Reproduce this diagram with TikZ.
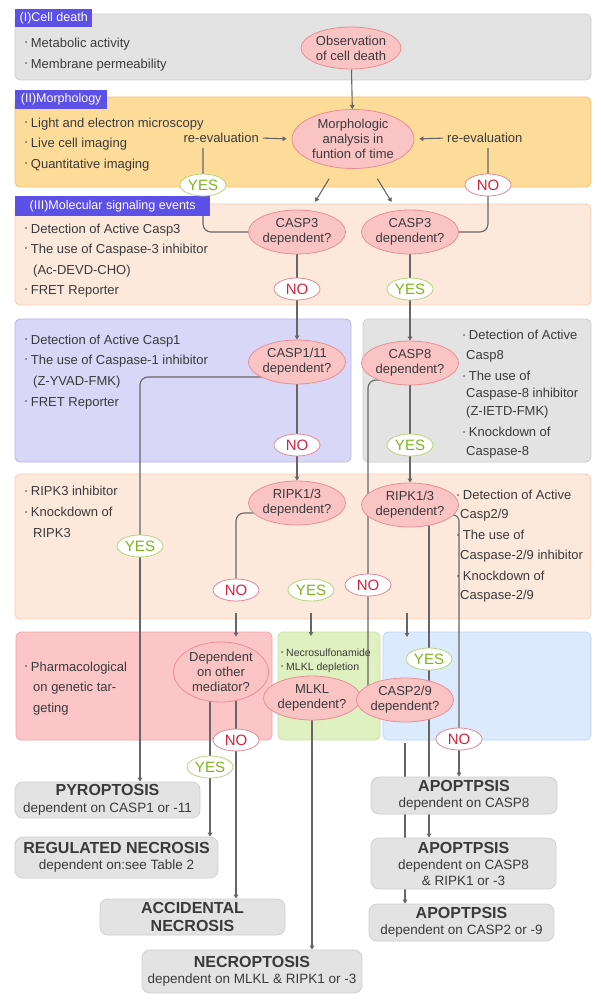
\documentclass[tikz,border=0pt]{standalone}
\usepackage{fontspec}
\setmainfont{Liberation Sans}
\usetikzlibrary{shapes.geometric,arrows.meta,calc}
\pgfdeclarelayer{bg}\pgfdeclarelayer{mid}\pgfsetlayers{bg,mid,main}
\newcommand\fz[2]{\fontsize{#1}{#2}\selectfont}
\newcommand\bl{\raisebox{0.35ex}{\fz{6}{6}\textbullet}\ }
\newcommand\ttl[1]{{\fontsize{16}{17}\selectfont\bfseries #1}}
\definecolor{txt}{HTML}{3A3A3A}
\definecolor{ellF}{HTML}{FBC4C4}\definecolor{ellB}{HTML}{E88F95}
\definecolor{yesB}{HTML}{B5D67A}\definecolor{yesT}{HTML}{7CB518}
\definecolor{noB}{HTML}{E48A96}\definecolor{noT}{HTML}{D9233F}
\definecolor{lab}{HTML}{5D50E6}\definecolor{lnC}{HTML}{666666}
\definecolor{resF}{HTML}{E3E3E3}\definecolor{resB}{HTML}{CFCFCF}
\tikzset{
 ell/.style={ellipse,draw=ellB,fill=ellF,line width=0.8pt,inner sep=0pt,align=center,text=txt,font=\fz{13}{15}},
 yes/.style={ellipse,draw=yesB,fill=white,text=yesT,minimum width=46,minimum height=22,inner sep=0pt,line width=0.8pt,font=\fz{15}{15}},
 no/.style={ellipse,draw=noB,fill=white,text=noT,minimum width=46,minimum height=22,inner sep=0pt,line width=0.8pt,font=\fz{15}{15}},
 res/.style={rounded corners=8pt,draw=resB,fill=resF,line width=0.8pt,align=center,text=txt,inner sep=0pt,font=\fz{13.5}{16.5}},
 ln/.style={draw=lnC,line width=1.1pt},
 arr/.style={ln,-{Triangle[length=4pt,width=4.5pt]}},
 pan/.style={rounded corners=5pt,line width=0.8pt},
 lab/.style={fill=lab,text=white,inner sep=0pt,font=\fz{12.5}{12.5},anchor=north west},
 bt/.style={anchor=west,text=txt,font=\fz{13}{13},inner sep=0pt}
}
\begin{document}
\begin{tikzpicture}[x=1pt,y=-1pt]
\useasboundingbox (0,0) rectangle (600,1008);
\begin{pgfonlayer}{bg}
\fill[white] (0,0) rectangle (600,1008);
\path[pan,fill=resF,draw=resB] (15,14) rectangle (591,80);
\path[pan,fill={rgb,255:red,253;green,220;blue,154},draw={rgb,255:red,245;green,192;blue,107}] (15,97) rectangle (591,187);
\path[pan,fill={rgb,255:red,253;green,233;blue,220},draw={rgb,255:red,249;green,205;blue,179}] (15,204) rectangle (591,305);
\path[pan,fill={rgb,255:red,217;green,215;blue,247},draw={rgb,255:red,185;green,180;blue,239}] (15,319) rectangle (351,462);
\path[pan,fill=resF,draw=resB] (363,319) rectangle (591,462);
\path[pan,fill={rgb,255:red,253;green,233;blue,220},draw={rgb,255:red,249;green,205;blue,179}] (15,474) rectangle (591,619);
\path[pan,fill={rgb,255:red,252;green,197;blue,199},draw={rgb,255:red,245;green,163;blue,165}] (16,632) rectangle (272,740);
\path[pan,fill={rgb,255:red,223;green,240;blue,193},draw={rgb,255:red,201;green,227;blue,163}] (278,632) rectangle (380,740);
\path[pan,fill={rgb,255:red,219;green,234;blue,252},draw={rgb,255:red,188;green,214;blue,245}] (383,632) rectangle (591,740);
\end{pgfonlayer}
% labels
\node[lab,minimum width=77,minimum height=18] (l1) at (15,9) {(I)Cell death};
\node[lab,minimum width=92,minimum height=19] (l2) at (15,90) {(II)Morphology};
\node[lab,minimum width=195,minimum height=20] (l3) at (15,196) {(III)Molecular signaling events};
% bullets
\node[bt] (t1) at (25,44) {\bl Metabolic activity};
\node[bt] (t2) at (25,65) {\bl Membrane permeability};
\node[bt] (t3) at (25,124) {\bl Light and electron microscopy};
\node[bt] (t4) at (25,144) {\bl Live cell imaging};
\node[bt] (t5) at (25,165) {\bl Quantitative imaging};
\node[bt] (t6) at (25,230) {\bl Detection of Active Casp3};
\node[bt] (t7) at (25,250) {\bl The use of Caspase-3 inhibitor};
\node[bt] (t8) at (33,271) {(Ac-DEVD-CHO)};
\node[bt] (t9) at (25,291) {\bl FRET Reporter};
\node[bt] (u1) at (25,341) {\bl Detection of Active Casp1};
\node[bt] (u2) at (25,361) {\bl The use of Caspase-1 inhibitor};
\node[bt] (u3) at (33,382) {(Z-YVAD-FMK)};
\node[bt] (u4) at (25,403) {\bl FRET Reporter};
\node[bt] (v1) at (463,335) {\bl Detection of Active};
\node[bt] (v2) at (466,356) {Casp8};
\node[bt] (v3) at (463,376) {\bl The use of};
\node[bt] (v4) at (466,394) {Caspase-8 inhibitor};
\node[bt] (v5) at (466,412) {(Z-IETD-FMK)};
\node[bt] (v6) at (463,432) {\bl Knockdown of};
\node[bt] (v7) at (466,452) {Caspase-8};
\node[bt] (w1) at (25,491) {\bl RIPK3 inhibitor};
\node[bt] (w2) at (25,512) {\bl Knockdown of};
\node[bt] (w3) at (33,533) {RIPK3};
\node[bt] (x1) at (457,495) {\bl Detection of Active};
\node[bt] (x2) at (460,515) {Casp2/9};
\node[bt] (x3) at (457,535) {\bl The use of};
\node[bt] (x4) at (460,556) {Caspase-2/9 inhibitor};
\node[bt] (x5) at (457,576) {\bl Knockdown of};
\node[bt] (x6) at (460,596) {Caspase-2/9};
\node[bt] (z1) at (25,668) {\bl Pharmacological};
\node[bt] (z2) at (33,688) {on genetic tar-};
\node[bt] (z3) at (33,709) {geting};
\node[bt,font=\fz{10.5}{10.5}] (g1) at (281,653) {\bl Necrosulfonamide};
\node[bt,font=\fz{10.5}{10.5}] (g2) at (281,668) {\bl MLKL depletion};
\node[bt,anchor=east] (rel) at (259,138) {re-evaluation};
\node[bt] (rer) at (447,138) {re-evaluation};
% ellipses
\node[ell,minimum width=100,minimum height=42] (obs) at (351,48) {Observation\\of cell death};
\node[ell,minimum width=122,minimum height=59] (morph) at (353,139) {Morphologic\\analysis in\\funtion of time};
\node[ell,minimum width=92,minimum height=44] (c3a) at (297,232) {CASP3\\dependent?};
\node[ell,minimum width=92,minimum height=44] (c3b) at (410,232) {CASP3\\dependent?};
\node[ell,minimum width=90,minimum height=44] (c1) at (297,362) {CASP1/11\\dependent?};
\node[ell,minimum width=90,minimum height=44] (c8) at (410,363) {CASP8\\dependent?};
\node[ell,minimum width=90,minimum height=44] (r1) at (297,503) {RIPK1/3\\dependent?};
\node[ell,minimum width=90,minimum height=44] (r2) at (410,505) {RIPK1/3\\dependent?};
\node[ell,minimum width=95,minimum height=60] (dep) at (221,672) {Dependent\\on other\\mediator?};
\node[ell,minimum width=90,minimum height=44] (mlkl) at (312,698) {MLKL\\dependent?};
\node[ell,minimum width=90,minimum height=44] (c29) at (405,700) {CASP2/9\\dependent?};
% yes/no
\node[yes] (y1) at (203,185) {YES};
\node[no] (n1) at (488,185) {NO};
\node[no] (n2) at (297,289) {NO};
\node[yes] (y2) at (410,289) {YES};
\node[no] (n3) at (297,445) {NO};
\node[yes] (y3) at (410,445) {YES};
\node[yes] (y4) at (140,546) {YES};
\node[no] (n4) at (368,585) {NO};
\node[no] (n5) at (236,590) {NO};
\node[yes] (y6) at (311,590) {YES};
\node[yes] (y7) at (429,659) {YES};
\node[no] (n7) at (459,739) {NO};
\node[no] (n6) at (236,740) {NO};
\node[yes] (y5) at (210,767) {YES};
% results
\node[res,minimum width=185,minimum height=36] (pyro) at (107.5,800) {\ttl{PYROPTOSIS}\\dependent on CASP1 or -11};
\node[res,minimum width=203,minimum height=41] (reg) at (116.5,857.5) {\ttl{REGULATED NECROSIS}\\dependent on:see Table 2};
\node[res,minimum width=185,minimum height=36,font=\fz{16}{18}\bfseries] (acc) at (192.5,917) {ACCIDENTAL\\NECROSIS};
\node[res,minimum width=220,minimum height=43] (necro) at (252,971.5) {\ttl{NECROPTOSIS}\\dependent on MLKL \& RIPK1 or -3};
\node[res,minimum width=186,minimum height=37] (ap1) at (464,795.5) {\ttl{APOPTPSIS}\\dependent on CASP8};
\node[res,minimum width=185,minimum height=51,font=\fz{13.5}{16}] (ap2) at (463.5,863.5) {\ttl{APOPTPSIS}\\dependent on CASP8\\\& RIPK1 or -3};
\node[res,minimum width=185,minimum height=37] (ap3) at (461.5,922.5) {\ttl{APOPTPSIS}\\dependent on CASP2 or -9};
% coordinates
\coordinate (ry1) at (203,148);
\coordinate (rr1) at (488,148);
\coordinate (gtop) at (311,636);
\coordinate (f1) at (407,613);
\coordinate (f2) at (407,637);
\coordinate (f3) at (405,743);
\begin{pgfonlayer}{mid}
\draw[arr] (obs) -- (morph);
\draw[arr,shorten <=4pt,shorten >=5pt] (rel.east) -- (morph.west);
\draw[arr,shorten <=4pt,shorten >=5pt] (rer.west) -- (morph.east);
\draw[arr,shorten <=13pt,shorten >=10pt] (morph) -- (c3a);
\draw[arr,shorten <=13pt,shorten >=10pt] (morph) -- (c3b);
\draw[ln,rounded corners=8pt] (ry1) -- (y1.center) |- (c3a.west);
\draw[ln,rounded corners=8pt] (rr1) -- (n1.center) |- (c3b.east);
\draw[ln] (c3a) -- (n2);
\draw[arr] (n2) -- (c1);
\draw[ln] (c3b) -- (y2);
\draw[arr] (y2) -- (c8);
\draw[ln] (c1) -- (n3);
\draw[arr] (n3) -- (r1);
\draw[ln] (c8) -- (y3);
\draw[arr] (y3) -- (r2);
\draw[ln,rounded corners=8pt] ([yshift=-15pt]c1.center) -| (y4.center);
\draw[arr] (y4) -- (y4 |- pyro.north);
\draw[ln,rounded corners=8pt] ([yshift=-17pt]c8.center) -| (n4.center) -- (n4 |- c29.center);
\draw[ln,rounded corners=8pt] ([yshift=-10pt]r1.center) -| (n5);
\draw[arr,shorten <=12pt,shorten >=5pt] (n5) -- (n5 |- dep.north);
\draw[arr,shorten <=12pt] (y6) -- (gtop);
\draw[arr] (f1) -- (f2);
\draw[ln] (dep.center -| y5) -- (y5);
\draw[arr] (y5) -- (y5 |- reg.north);
\draw[ln] (dep.center -| n6) -- (n6);
\draw[arr] (n6) -- (n6 |- acc.north);
\draw[arr] (mlkl) -- (mlkl |- necro.north);
\draw[arr] (r2.center -| y7) -- (y7 |- ap2.north);
\draw[ln,rounded corners=6pt] ([yshift=-10pt]r2.center) -| (n7.center);
\draw[arr] (n7) -- (n7 |- ap1.north);
\draw[arr] (f3) -- (f3 |- ap3.north);
\end{pgfonlayer}
\end{tikzpicture}
\end{document}
